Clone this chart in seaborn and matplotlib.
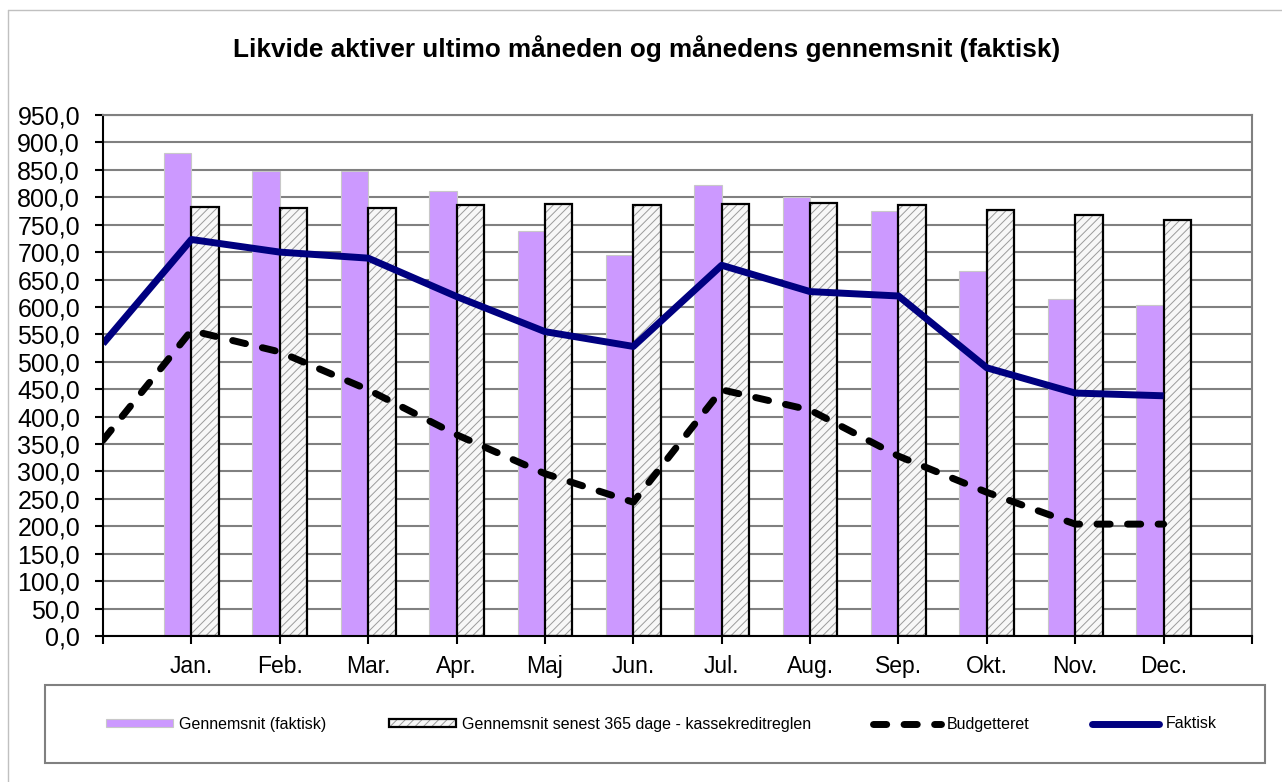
import numpy as np
import pandas as pd
import matplotlib
matplotlib.use("Agg")
import matplotlib.pyplot as plt
import matplotlib.patches as mpatches
from matplotlib.lines import Line2D
from matplotlib.ticker import FuncFormatter, MultipleLocator
import seaborn as sns

# ---------------- data ----------------
months = ["", "Jan.", "Feb.", "Mar.", "Apr.", "Maj", "Jun.", "Jul.", "Aug.",
          "Sep.", "Okt.", "Nov.", "Dec."]
gennemsnit_faktisk = [np.nan, 880, 848, 848, 811, 739, 695, 822, 800, 775, 665, 614, 603]
gennemsnit_365 = [np.nan, 782, 780, 780, 786, 788, 786, 788, 790, 785, 777, 768, 758]
budgetteret = [357, 557, 518, 449, 367, 296, 244, 449, 412, 328, 262, 204, 204]
faktisk = [533, 723, 700, 689, 619, 555, 528, 676, 628, 620, 489, 443, 438]
series_names = ["Gennemsnit (faktisk)",
                "Gennemsnit senest 365 dage - kassekreditreglen",
                "Budgetteret", "Faktisk"]
y_max = 950
y_step = 50

# ---------------- style ----------------
sns.set_style("white")
plt.rcParams["font.family"] = ["Liberation Sans", "DejaVu Sans"]
plt.rcParams["text.color"] = "black"
plt.rcParams["hatch.linewidth"] = 0.7

PINK = "#CC99FF"
NAVY = "#000080"
GRID = "#808080"
HATCH_GRAY = "#9A9A9A"
LW = 5.0
DASH = (0, (1.9, 2.5))

W, H = 1282, 782
fig = plt.figure(figsize=(W / 100, H / 100), dpi=100)
ax = fig.add_axes([103 / W, 1 - 636 / H, (1252 - 103) / W, (636 - 115) / H])

bar_df = pd.DataFrame({
    "Måned": months * 2,
    "Serie": [series_names[0]] * len(months) + [series_names[1]] * len(months),
    "Værdi": gennemsnit_faktisk + gennemsnit_365,
})

sns.barplot(data=bar_df, x="Måned", y="Værdi", hue="Serie", order=months,
            hue_order=series_names[:2], palette=[PINK, "#F7F7F7"],
            width=0.62, dodge=True, saturation=1, errorbar=None,
            legend=False, ax=ax)

for p in ax.containers[0]:
    p.set_facecolor(PINK)
    p.set_edgecolor("#C8C8C8")
    p.set_linewidth(0.8)
for p in ax.containers[1]:
    p.set_facecolor("#F7F7F7")
    p.set_hatch("////")
    p.set_edgecolor("black")
    p.set_linewidth(1.6)
    p._hatch_color = matplotlib.colors.to_rgba(HATCH_GRAY)

pos = np.arange(len(months))
line_df = pd.DataFrame({"pos": pos, "Budgetteret": budgetteret, "Faktisk": faktisk})
sns.lineplot(data=line_df, x="pos", y="Budgetteret", color="black", lw=LW,
             linestyle=DASH, dash_capstyle="round", ax=ax)
sns.lineplot(data=line_df, x="pos", y="Faktisk", color=NAVY, lw=LW,
             solid_capstyle="butt", ax=ax)

# ---------------- axes ----------------
ax.set_xlim(0, len(months))
ax.set_ylim(0, y_max)
ax.set_xticks(np.arange(len(months) + 1))
ax.set_xticklabels(months + [""])
ax.yaxis.set_major_locator(MultipleLocator(y_step))
ax.yaxis.set_major_formatter(FuncFormatter(lambda v, _: f"{v:.1f}".replace(".", ",")))
ax.set_xlabel("")
ax.set_ylabel("")
ax.set_axisbelow(True)
ax.yaxis.grid(True, color=GRID, lw=1.5)
ax.xaxis.grid(False)
ax.tick_params(axis="both", direction="out", length=5.5, width=1.5, color="black",
               labelcolor="black")
ax.tick_params(axis="y", pad=11, left=True, labelsize=18)
ax.tick_params(axis="x", pad=8, bottom=True, labelsize=16.5)
for s in ["left", "bottom"]:
    ax.spines[s].set_color("black")
    ax.spines[s].set_linewidth(1.5)
for s in ["top", "right"]:
    ax.spines[s].set_color(GRID)
    ax.spines[s].set_linewidth(1.5)
    ax.spines[s].set_visible(True)

# ---------------- title ----------------
fig.text(646.5 / W, 1 - 49 / H,
         "Likvide aktiver ultimo måneden og månedens gennemsnit (faktisk)",
         ha="center", va="center", fontsize=18.8, fontweight="bold", color="black")

# ---------------- legend ----------------
h_pink = mpatches.Patch(facecolor=PINK, edgecolor="#C8C8C8", lw=0.8)
h_hatch = mpatches.Patch(facecolor="#F7F7F7", hatch="////", edgecolor="black", lw=1.6)
h_hatch._hatch_color = matplotlib.colors.to_rgba(HATCH_GRAY)
h_budget = Line2D([], [], color="black", lw=LW, linestyle=DASH, dash_capstyle="round")
h_fakt = Line2D([], [], color=NAVY, lw=LW)
fig.legend([h_pink, h_hatch, h_budget, h_fakt], series_names, loc="center",
           bbox_to_anchor=(661 / W, 1 - 724 / H), ncol=4, frameon=False,
           fontsize=11.5, handlelength=4.2, handleheight=0.45, handletextpad=0.4,
           columnspacing=3.9, labelcolor="black")
fig.add_artist(mpatches.Rectangle((45 / W, 1 - 763 / H), (1265 - 45) / W, (763 - 685) / H,
                                  transform=fig.transFigure, fill=False,
                                  edgecolor=GRID, lw=1.5))
# outer chart border
fig.add_artist(Line2D([8 / W, 1], [1 - 10 / H, 1 - 10 / H], transform=fig.transFigure,
                      color="#C0C0C0", lw=1))
fig.add_artist(Line2D([8 / W, 8 / W], [0, 1 - 10 / H], transform=fig.transFigure,
                      color="#C0C0C0", lw=1))

fig.savefig("out.png", dpi=100)
